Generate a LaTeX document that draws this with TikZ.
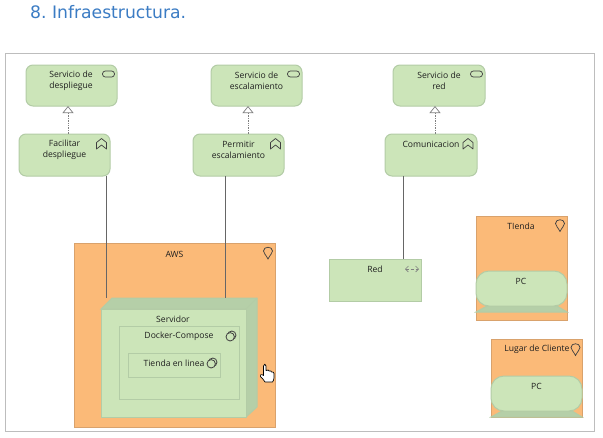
\documentclass[tikz,border=0pt]{standalone}
\usepackage{fontspec}
\setmainfont{Open Sans}
\newfontfamily\titlefont{DejaVu Sans}
\usetikzlibrary{arrows.meta}
\definecolor{appgreen}{HTML}{CCE5B9}
\definecolor{edgegreen}{HTML}{B3CCA6}
\definecolor{darkgreen}{HTML}{B5CFA8}
\definecolor{locfill}{HTML}{FBBA78}
\definecolor{locedge}{HTML}{D9A26C}
\definecolor{titleblue}{HTML}{3B7CC4}
\definecolor{framegrey}{HTML}{BDBDBD}
\definecolor{icongrey}{HTML}{404040}
\tikzset{
  x=1pt,y=-1pt,
  lbl/.style={font=\fontsize{8.6}{11.3}\selectfont,text=black!88,align=center,inner sep=0},
  svc/.style={draw=edgegreen,fill=appgreen,line width=1pt,rounded corners=7pt},
  flat/.style={draw=edgegreen,fill=appgreen,line width=1pt},
  loc/.style={draw=locedge,fill=locfill,line width=.7pt},
  assoc/.style={draw=black!60,line width=1pt},
  realz/.style={draw=black!50,line width=.7pt,densely dotted,-{Triangle[open,fill=white,length=7pt,width=11pt]}},
  icon/.style={draw=icongrey,line width=.7pt,fill=none},
}
\newcommand{\placebox}[6]{% name, style, x1,y1,x2,y2
  \pgfmathsetmacro{\bw}{#5-#3}\pgfmathsetmacro{\bh}{#6-#4}
  \node[#2,rectangle,anchor=north west,minimum width=\bw pt,minimum height=\bh pt,inner sep=0,outer sep=0] (#1) at (#3,#4) {};
}
\newcommand{\svcicon}[2]{\draw[icon,rounded corners=2.8pt] (#1-6,#2-3) rectangle (#1+6,#2+3);}
\newcommand{\funicon}[2]{\draw[icon,line join=round] (#1,#2-5.5) -- (#1+5,#2-1.5) -- (#1+5,#2+5) -- (#1,#2+1) -- (#1-5,#2+5) -- (#1-5,#2-1.5) -- cycle;}
\newcommand{\locicon}[2]{\draw[icon] (#1,#2+6) .. controls (#1-2,#2+2) and (#1-4.5,#2) .. (#1-4.5,#2-2) .. controls (#1-4.5,#2-7) and (#1+4.5,#2-7) .. (#1+4.5,#2-2) .. controls (#1+4.5,#2) and (#1+2,#2+2) .. cycle;}
\newcommand{\sysicon}[2]{\draw[icon,line width=.8pt] (#1+.8,#2-.8) circle[radius=4.2pt]; \draw[icon,fill=appgreen,line width=.8pt] (#1-.8,#2+.8) circle[radius=4.2pt];}
\begin{document}
\begin{tikzpicture}
\useasboundingbox (0,0) rectangle (603,437);
\fill[white] (0,0) rectangle (603,437);
\node[anchor=base west,inner sep=0,text=titleblue,font=\titlefont\fontsize{17.2}{20}\selectfont] (title) at (30,18) {8.~Infraestructura.};
\node[draw=framegrey,line width=.8pt,rectangle,anchor=north west,minimum width=589pt,minimum height=378pt,inner sep=0] (frame) at (5,53) {};

% locations
\placebox{aws}{loc}{74}{243}{275}{427}
\placebox{tienda}{loc}{476}{216}{567}{320}
\placebox{lugar}{loc}{491}{339}{582}{417}

% services
\placebox{sdes}{svc}{26}{65}{117}{106}
\placebox{sesc}{svc}{211}{65}{302}{106}
\placebox{sred}{svc}{393}{65}{485}{106}
\placebox{fac}{svc}{19}{134}{110}{176}
\placebox{per}{svc}{193}{134}{284}{176}
\placebox{com}{svc}{385}{134}{477}{176}
\placebox{red}{flat}{329.5}{259}{421}{301}

% node (device) shapes
\filldraw[flat,fill=darkgreen] (101,309) -- (112,298) -- (257,298) -- (257,407) -- (246,417) -- (246,309) -- cycle;
\placebox{srv}{flat}{101}{309}{246}{417}
\draw[edgegreen,line width=1pt] (246,309) -- (257,298);
\placebox{dock}{flat}{119}{326}{239}{399}
\placebox{tel}{flat}{128}{353}{220}{377}

% PC devices
\filldraw[flat,fill=darkgreen] (487,306) -- (476,312) -- (567,312) -- (557,306) -- cycle;
\placebox{pca}{svc,rounded corners=13pt}{476}{271}{567}{306}
\filldraw[flat,fill=darkgreen] (502,411) -- (491,417) -- (582,417) -- (572,411) -- cycle;
\placebox{pcb}{svc,rounded corners=13pt}{491}{376}{582}{411}

% connectors
\coordinate (c1) at (106,298);
\coordinate (c2) at (225,298);
\coordinate (c3) at (403,259);
\coordinate (r1) at (68,106);
\coordinate (r2) at (248,106);
\coordinate (r3) at (435,106);
\draw[assoc] (fac.south -| c1) -- (c1);
\draw[assoc] (per.south -| c2) -- (c2);
\draw[assoc] (com.south -| c3) -- (c3);
\draw[realz] (fac.north -| r1) -- (r1);
\draw[realz] (per.north -| r2) -- (r2);
\draw[realz] (com.north -| r3) -- (r3);

% labels
\node[lbl] (t1) at (71,80.5) {Servicio de\\despliegue};
\node[lbl] (t2) at (256.5,80.5) {Servicio de\\escalamiento};
\node[lbl] (t3) at (439,80.5) {Servicio de\\red};
\node[lbl] (t4) at (64.5,150) {Facilitar\\despliegue};
\node[lbl] (t5) at (238.5,150) {Permitir\\escalamiento};
\node[lbl] (t6) at (431,144) {Comunicacion};
\node[lbl] (t7) at (375,269.5) {Red};
\node[lbl] (t8) at (174.5,254) {AWS};
\node[lbl] (t9) at (173,319.5) {Servidor};
\node[lbl] (t10) at (179,336) {Docker-Compose};
\node[lbl] (t11) at (174,363.5) {Tienda en linea};
\node[lbl] (t12) at (521,226.5) {TIenda};
\node[lbl] (t13) at (521,281.5) {PC};
\node[lbl] (t14) at (537,349.5) {Lugar de Cliente};
\node[lbl] (t15) at (536.5,386) {PC};

% icons
\svcicon{108.5}{74}
\svcicon{293.5}{74}
\svcicon{476.5}{74}
\funicon{101.5}{144}
\funicon{275.5}{144}
\funicon{468}{144}
\locicon{268}{253}
\locicon{560}{225.5}
\locicon{575.5}{349.5}
\sysicon{231}{336}
\sysicon{212}{363}
\draw[black!50,line width=.6pt,densely dashed,{Straight Barb[length=3pt,width=6pt]}-{Straight Barb[length=3pt,width=6pt]}] (405,269) -- (419,269);

% hand cursor
\filldraw[fill=white,draw=black,line width=.7pt,line join=round]
  (263.5,366) .. controls (263.5,363.5) and (266,363.5) .. (266,366)
  -- (266,370.5) .. controls (268,369.6) and (269,370) .. (269,371)
  .. controls (270.5,370.4) and (271.5,371) .. (271.5,372)
  .. controls (273,371.6) and (274,372.4) .. (274,373.5)
  -- (274,378) .. controls (274,380) and (273,381) .. (272.5,382)
  -- (265,382) .. controls (264,380) and (262,378) .. (260.5,376.5)
  .. controls (259.5,375) and (261,373.5) .. (263.5,375.5) -- cycle;
\end{tikzpicture}
\end{document}
